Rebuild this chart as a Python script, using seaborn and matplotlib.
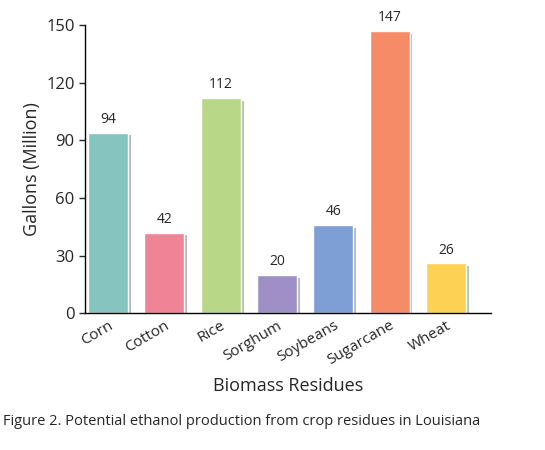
import matplotlib
matplotlib.use("Agg")
import matplotlib.pyplot as plt
import matplotlib.patheffects as pe
import seaborn as sns
import pandas as pd

crops = ["Corn", "Cotton", "Rice", "Sorghum", "Soybeans", "Sugarcane", "Wheat"]
gallons = [94, 42, 112, 20, 46, 147, 26]
colors = ["#85C4BF", "#F08497", "#B8D888", "#9E8FC6", "#7E9FD5", "#F68B68", "#FDD154"]

sns.set_style("white")
plt.rcParams['font.family'] = ['Open Sans', 'DejaVu Sans']

df = pd.DataFrame({"crop": crops, "gallons": gallons})
fig = plt.figure(figsize=(5.45, 4.5), dpi=100)
ax = fig.add_axes([0.156, 0.304, 0.744, 0.64])
sns.barplot(data=df, x="crop", y="gallons", hue="crop", palette=colors,
            width=0.71, ax=ax, legend=False, saturation=1)
for p in ax.patches:
    p.set_path_effects([pe.SimplePatchShadow(offset=(2, -2), alpha=0.35), pe.Normal()])
for i, v in enumerate(gallons):
    ax.text(i, v + 3, str(v), ha="center", va="bottom", fontsize=10)
ax.set_ylim(0, 150)
ax.set_yticks([0, 30, 60, 90, 120, 150])
ax.set_xlim(-0.41, 6.79)
ax.tick_params(axis="y", labelsize=12, length=4, left=True, width=1)
ax.tick_params(axis="x", labelsize=11, length=0)
plt.setp(ax.get_xticklabels(), rotation=30, ha="right", rotation_mode="anchor")
ax.set_ylabel("Gallons (Million)", fontsize=13)
ax.set_xlabel("Biomass Residues", fontsize=13, labelpad=6)
sns.despine(ax=ax)
for s in ["left", "bottom"]:
    ax.spines[s].set_color("black")
    ax.spines[s].set_linewidth(1)
fig.text(0.005, 0.055, "Figure 2. Potential ethanol production from crop residues in Louisiana", fontsize=10.5)
fig.savefig("out.png", dpi=100)
